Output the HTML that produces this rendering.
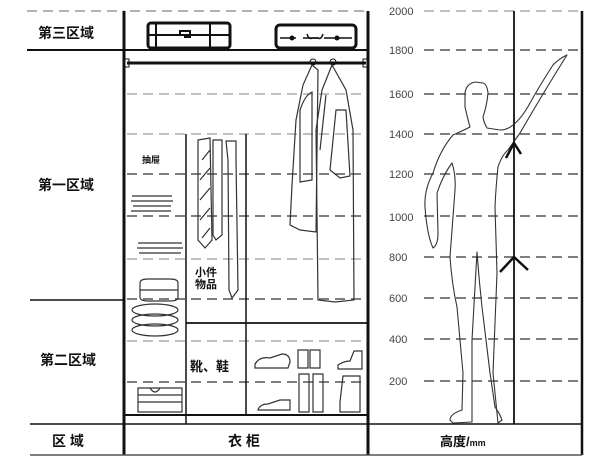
<!DOCTYPE html>
<html><head><meta charset="utf-8"><style>
html,body{margin:0;padding:0;background:#fff;}
svg{display:block;}
text{font-family:"Liberation Sans","Noto Sans CJK SC",sans-serif;}
.cj{font-family:"Noto Sans CJK SC","WenQuanYi Zen Hei",sans-serif;font-weight:bold;fill:#111;}
.n{font-size:11px;fill:#444;}
</style></head><body>
<svg width="608" height="472" viewBox="0 0 608 472" xmlns="http://www.w3.org/2000/svg">
<rect width="608" height="472" fill="#fff"/>
<g stroke="#555" stroke-width="1.4" stroke-dasharray="10,6" fill="none">
<line x1="27" y1="11" x2="124" y2="11" stroke="#999"/>
<line x1="130" y1="11" x2="366" y2="11" stroke="#999"/>
<line x1="424" y1="11" x2="582" y2="11" stroke="#aaa"/>
<line x1="424" y1="50" x2="582" y2="50"/>
<line x1="127" y1="94" x2="366" y2="94" stroke="#aaa"/>
<line x1="424" y1="94" x2="582" y2="94"/>
<line x1="127" y1="134" x2="366" y2="134" stroke="#aaa"/>
<line x1="424" y1="134" x2="582" y2="134"/>
<line x1="127" y1="174" x2="366" y2="174"/>
<line x1="424" y1="174" x2="582" y2="174"/>
<line x1="127" y1="216" x2="366" y2="216"/>
<line x1="424" y1="216" x2="582" y2="216"/>
<line x1="127" y1="259" x2="366" y2="259" stroke="#aaa"/>
<line x1="424" y1="257" x2="582" y2="257"/>
<line x1="127" y1="299" x2="366" y2="299"/>
<line x1="424" y1="298" x2="582" y2="298"/>
<line x1="127" y1="341" x2="366" y2="341" stroke="#aaa"/>
<line x1="424" y1="339" x2="582" y2="339"/>
<line x1="127" y1="382" x2="366" y2="382"/>
<line x1="424" y1="381" x2="582" y2="381"/>
</g>
<g stroke="#111" fill="none">
<line x1="124" y1="11" x2="124" y2="455" stroke-width="3"/>
<line x1="368" y1="11" x2="368" y2="455" stroke-width="3"/>
<line x1="582" y1="11" x2="582" y2="455" stroke-width="2.5"/>
<line x1="514" y1="11" x2="514" y2="424" stroke-width="1.8"/>
<line x1="27" y1="50" x2="368" y2="50" stroke-width="2"/>
<line x1="30" y1="300" x2="124" y2="300" stroke-width="1.5"/>
<line x1="30" y1="424" x2="582" y2="424" stroke-width="1.5"/>
<line x1="30" y1="455" x2="582" y2="455" stroke-width="1.5" stroke="#555"/>
<line x1="127" y1="63" x2="366" y2="63" stroke-width="3"/>
<line x1="186" y1="134" x2="186" y2="424" stroke-width="1.5"/>
<line x1="246" y1="134" x2="246" y2="415" stroke-width="1.5"/>
<line x1="186" y1="323" x2="368" y2="323" stroke-width="1.8"/>
<line x1="124" y1="415" x2="368" y2="415" stroke-width="2"/>
<rect x="125" y="59" width="4" height="8" stroke-width="1"/>
<rect x="363" y="59" width="4" height="8" stroke-width="1"/>
<circle cx="313" cy="62" r="3" stroke-width="1"/>
<circle cx="333" cy="62" r="3" stroke-width="1"/>
<rect x="148" y="23" width="82" height="25" rx="3" stroke-width="3"/>
<line x1="156" y1="23" x2="156" y2="48" stroke-width="2"/>
<line x1="210" y1="23" x2="210" y2="48" stroke-width="2"/>
<line x1="148" y1="35" x2="230" y2="35" stroke-width="2"/>
<path d="M180 35 v-4 h10 v6 h-6" stroke-width="2"/>
<rect x="276" y="25" width="80" height="23" rx="4" stroke-width="3"/>
<path d="M280 38 h16 M303 38 h16 M324 38 h28" stroke-width="1.5"/>
<circle cx="292" cy="38" r="2" fill="#111"/><circle cx="337" cy="38" r="2" fill="#111"/>
<path d="M307 34 q2 6 5 4 h6 q3 2 5 -4" stroke-width="1.5"/>
</g>
<g stroke="#333" stroke-width="1.2" fill="none">
<path d="M312 65 L303 85 L296 120 L292 185 L290 225 L300 230 L316 232 L318 70 Z"/>
<path d="M300 110 Q305 95 312 92 L312 180 L300 182 Z"/>
<path d="M332 65 L322 90 L316 130 L318 300 L335 302 L354 300 L353 130 L346 90 Z"/>
<path d="M336 110 L330 170 L340 178 L350 176 L346 110 Z"/>
<path d="M320 150 L326 95"/>
<path d="M198 140 L210 138 L212 240 L205 248 L198 240 Z"/>
<path d="M202 160 L210 150 M200 180 L210 168 M200 200 L210 188 M200 220 L210 208 M202 238 L210 228"/>
<path d="M213 140 L222 140 L222 235 L216 240 L213 235 Z"/>
<path d="M226 141 L236 141 L236 160 L238 290 L232 298 L229 290 L228 160 Z"/>
<path d="M132 196 h40 M131 201 h42 M133 206 h38 M131 211 h40"/>
<path d="M138 243 h44 M137 248 h46 M139 253 h42"/>
<path d="M140 283 q0-4 8-4 h22 q8 0 8 4 v14 q0 4-8 4 h-22 q-8 0-8-4 z M140 290 h38"/>
<ellipse cx="155" cy="310" rx="23" ry="6"/><ellipse cx="155" cy="320" rx="23" ry="6"/><ellipse cx="155" cy="330" rx="23" ry="6"/>
<path d="M138 388 h44 v24 h-44 z M138 395 h44 M138 402 h44 M150 388 q5 8 10 0"/>
<path d="M255 364 q5-8 15-6 l12 -4 q8 0 8 8 l-2 6 h-33 z"/>
<path d="M258 410 q2-6 10-6 l12-4 h10 v10 h-32 z"/>
<path d="M298 350 h10 v18 h-10 z M310 350 h10 v18 h-10 z"/>
<path d="M299 374 h10 v38 h-10 z M313 374 h10 v38 h-10 z"/>
<path d="M338 365 q6-4 12-4 l4-10 h8 v18 h-24 z"/>
<path d="M343 376 h17 v36 h-20 v-10 z"/>
</g>
<g stroke="#333" stroke-width="1.1" fill="none" stroke-linejoin="round">
<path d="M475 82 Q466 84 465 93 L465 107 Q468 120 470 127 Q460 132 453 135 Q440 150 433 173 Q424 190 425 207 Q427 235 433 248 Q438 245 438 233 L437 193 Q443 175 452 163 Q456 175 455 190 L450 257 Q452 285 457 307 L463 373 L462 410 Q450 414 450 420 L453 423 L472 422 L472 340 L477 252 Q479 280 482 307 L490 373 L495 407 Q500 414 502 420 L498 423 L493 373 Q495 320 497 273 L495 207 Q496 185 498 167 Q502 155 508 150 L520 133 Q545 90 567 55 Q560 58 553 65 Q540 85 530 103 Q522 118 513 125 Q507 130 500 130 L487 128 Q484 123 483 117 Q487 105 488 93 Q487 84 483 83 Z"/>
</g>
<g stroke="#111" stroke-width="2.5" fill="none">
<path d="M506 158 L514 143 L521 154"/>
<path d="M500 272 L514 257 L528 270"/>
</g>
<g class="cj">
<text x="38" y="38" font-size="14">第三区域</text>
<text x="38" y="190" font-size="14">第一区域</text>
<text x="40" y="365" font-size="14">第二区域</text>
<text x="52" y="446" font-size="14">区  域</text>
<text x="228" y="446" font-size="14">衣  柜</text>
<text x="440" y="446" font-size="13">高度/<tspan font-size="9">mm</tspan></text>
<text x="190" y="371" font-size="13">靴、鞋</text>
<text x="195" y="276" font-size="11">小件</text>
<text x="195" y="288" font-size="11">物品</text>
<text x="142" y="163" font-size="9">抽屉</text>
</g>
<g class="n">
<text x="389" y="15">2000</text>
<text x="389" y="54">1800</text>
<text x="389" y="98">1600</text>
<text x="389" y="138">1400</text>
<text x="389" y="178">1200</text>
<text x="389" y="221">1000</text>
<text x="389" y="261">800</text>
<text x="389" y="302">600</text>
<text x="389" y="343">400</text>
<text x="389" y="385">200</text>
</g>
</svg>
</body></html>
